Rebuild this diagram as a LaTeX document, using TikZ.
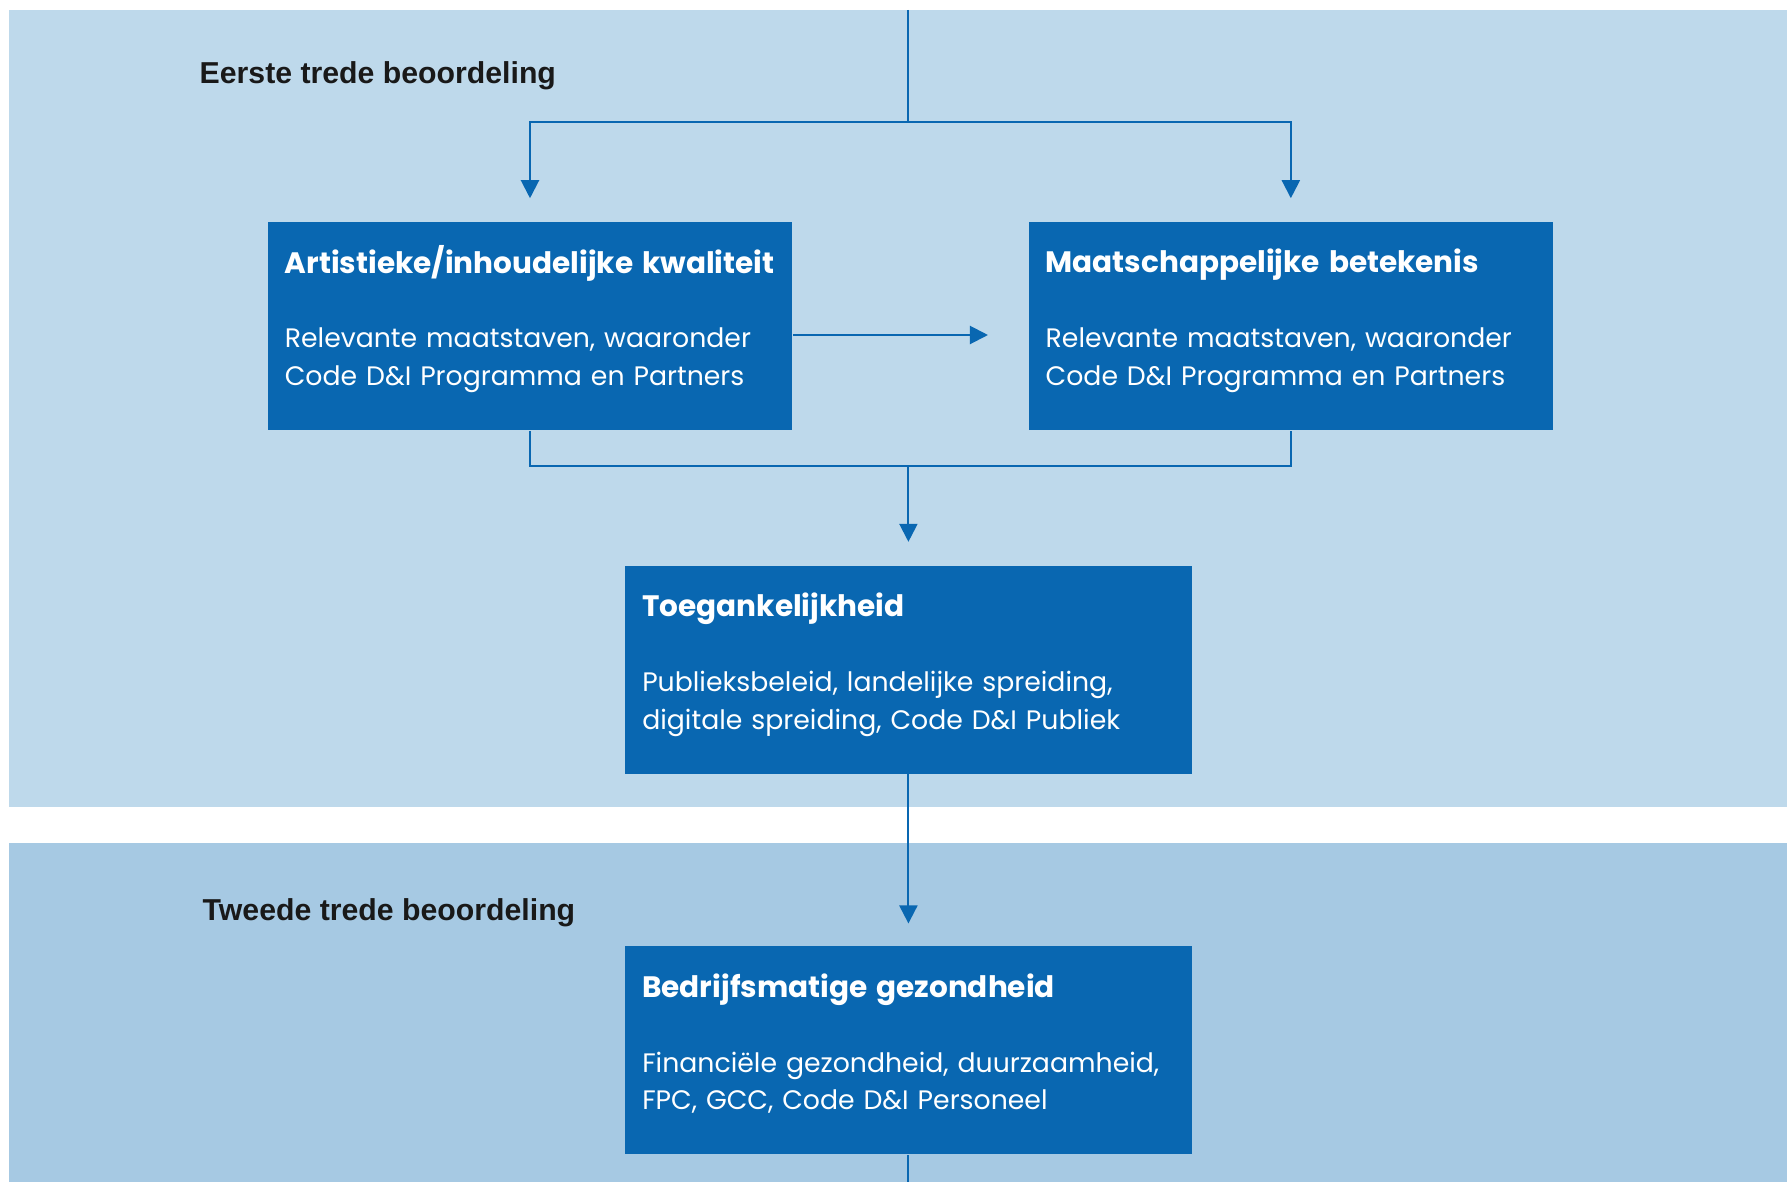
\documentclass[tikz,border=0pt]{standalone}
\usepackage{fontspec}
\setmainfont{Poppins}
\newfontfamily\headfont{Liberation Sans}
\usetikzlibrary{positioning,arrows.meta,calc}
\definecolor{panelone}{HTML}{BED9EB}
\definecolor{paneltwo}{HTML}{A6C9E3}
\definecolor{boxblue}{HTML}{0967B1}

\begin{document}
\begin{tikzpicture}[x=0.01cm, y=-0.01cm,
bluebox/.style={rectangle, fill=boxblue, text=white, minimum height=2.08cm, inner xsep=0.17cm, align=left, font=\fontsize{7.6}{10.7}\selectfont,
  execute at begin node={\rule{0pt}{7.9pt}}, execute at end node={\rule[-6.1pt]{0pt}{6.1pt}}},
stagelabel/.style={anchor=west, inner sep=0pt, text=black!90, font=\headfont\bfseries\fontsize{8.6}{10}\selectfont},
flow/.style={draw=boxblue, line width=0.6pt},
arrow/.style={flow, -{Triangle[width=0.18cm, length=0.18cm]}},
node distance=1.34cm and 2.35cm,
]
%Background
\useasboundingbox (0,0) rectangle (1787,1182);
\fill[panelone] (9,10) rectangle (1787,807);
\fill[paneltwo] (9,843) rectangle (1787,1182);

%Nodes
\node[stagelabel]                  (Eerste)                           at (199,76)     {Eerste trede beoordeling};
\node[bluebox, text width=4.9cm]   (Artistiek)                        at (530,326)    {{\bfseries\fontsize{8.4}{10.7}\selectfont Artistieke/inhoudelijke kwaliteit}\\[10.6pt]Relevante maatstaven, waaronder\\Code D\&I Programma en Partners};
\node[bluebox, text width=4.9cm]   (Maatschappij)  [right=of Artistiek]               {{\bfseries\fontsize{8.4}{10.7}\selectfont Maatschappelijke betekenis}\\[10.6pt]Relevante maatstaven, waaronder\\Code D\&I Programma en Partners};
\coordinate                        (mid)           at ($(Artistiek.south)!0.5!(Maatschappij.south)$);
\node[bluebox, text width=5.32cm]  (Toegang)       [below=of mid, xshift=-0.02cm]     {{\bfseries\fontsize{8.4}{10.7}\selectfont Toegankelijkheid}\\[10.6pt]Publieksbeleid, landelijke spreiding,\\digitale spreiding, Code D\&I Publiek};
\node[stagelabel]                  (Tweede)                           at (202,913)    {Tweede trede beoordeling};
\node[bluebox, text width=5.32cm]  (Bedrijf)       [below=1.71cm of Toegang]          {{\bfseries\fontsize{8.4}{10.7}\selectfont Bedrijfsmatige gezondheid}\\[10.6pt]Financiële gezondheid, duurzaamheid,\\FPC, GCC, Code D\&I Personeel};

%Lines
\coordinate (top)    at (Toegang.north |- 0,10);
\coordinate (split)  at (Toegang.north |- 0,122);
\coordinate (join)   at ($(Artistiek.south)+(0,35)$);
\coordinate (bottom) at (Bedrijf.south |- 0,1182);
\draw[flow] (top) -- (split);
\draw[arrow, shorten >=0.23cm] (split) -| (Artistiek.north);
\draw[arrow, shorten >=0.23cm] (split) -| (Maatschappij.north);
\draw[arrow, shorten >=0.4cm] ([yshift=-0.09cm]Artistiek.east) -- ([yshift=-0.09cm]Maatschappij.west);
\draw[flow] (Artistiek.south) -- (join) -| (Maatschappij.south);
\draw[arrow, shorten >=0.23cm] (Toegang.north |- join) -- (Toegang.north);
\draw[arrow, shorten >=0.22cm] (Toegang.south) -- (Bedrijf.north);
\draw[flow] (Bedrijf.south) -- (bottom);
\end{tikzpicture}
\end{document}
